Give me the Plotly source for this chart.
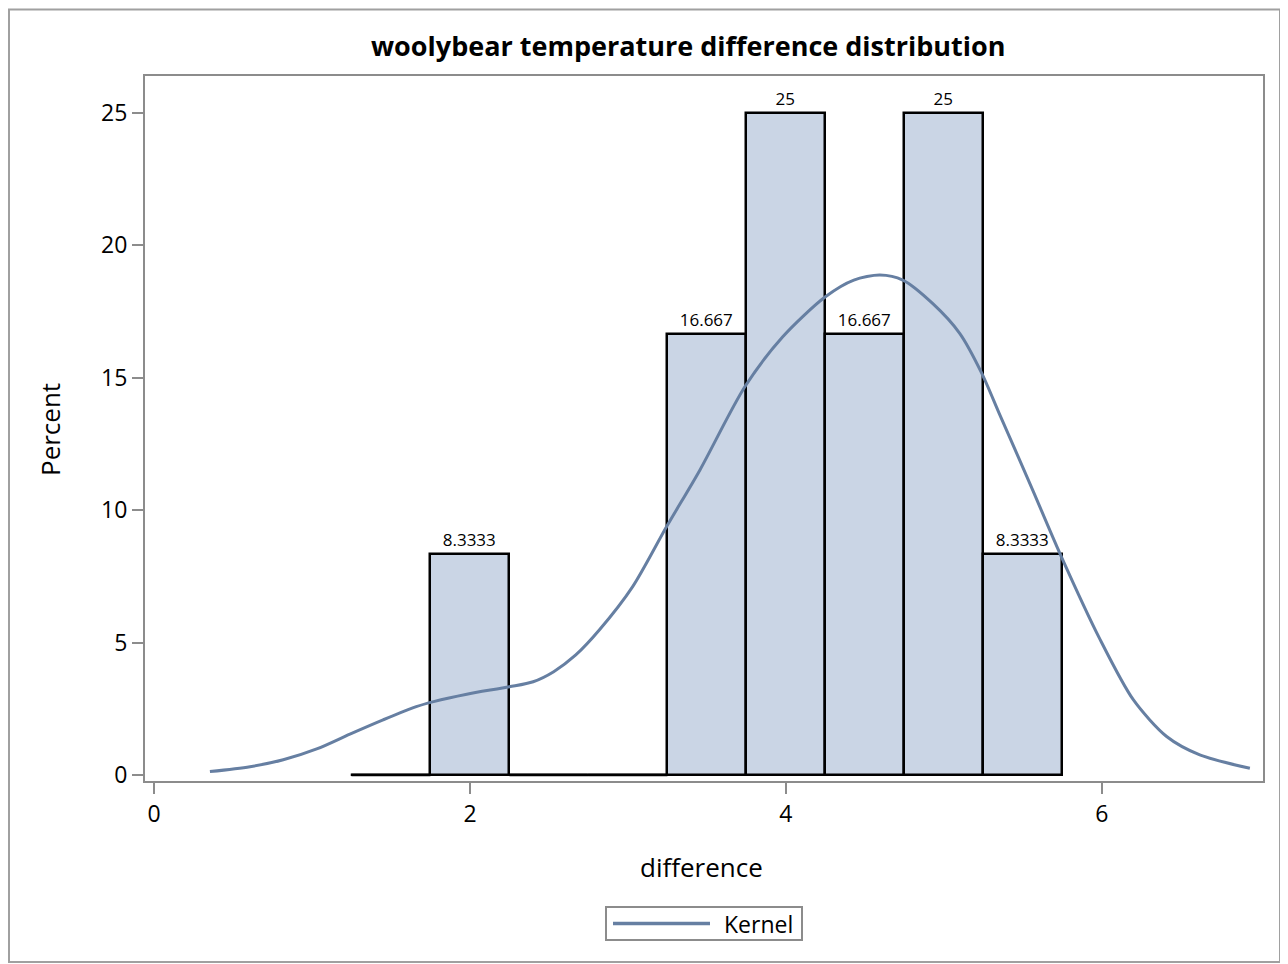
import plotly.graph_objects as go

# Histogram bins (midpoints) and percents
bin_mid = [1.5, 2.0, 2.5, 3.0, 3.5, 4.0, 4.5, 5.0, 5.5]
percent = [0, 8.3333, 0, 0, 16.667, 25, 16.667, 25, 8.3333]
bin_width = 0.5

# Kernel density curve
kern_x = [0.354, 0.608, 0.818, 1.03, 1.24, 1.45, 1.66, 1.77, 1.98, 2.25, 2.40, 2.53, 2.67,
          2.82, 3.03, 3.245, 3.456, 3.74, 3.98, 4.25, 4.43, 4.595, 4.74, 4.93, 5.10, 5.24,
          5.35, 5.47, 5.565, 5.734, 5.99, 6.2, 6.41, 6.62, 6.937]
kern_y = [0.125, 0.31, 0.57, 0.98, 1.54, 2.08, 2.58, 2.77, 3.05, 3.33, 3.52, 3.9, 4.53,
          5.48, 7.11, 9.38, 11.52, 14.66, 16.55, 18.06, 18.69, 18.88, 18.69, 17.8, 16.68, 15.17,
          13.66, 12.02, 10.72, 8.37, 5.1, 2.83, 1.45, 0.755, 0.25]

x_ticks = [0, 2, 4, 6]
y_ticks = [0, 5, 10, 15, 20, 25]

FONT = "Open Sans"
fill = "#CAD5E5"
line_col = "#667FA2"
frame_col = "#8C8C8C"

labels = ["" if v == 0 else f"{v:.5g}" for v in percent]

# page body has an 8px margin: figure covers reference pixels 8..1288, 8..964
OFF = 8
W, H = 1280, 956
L, R, T, B = 137, 25, 68, 183
pw = W - L - R
ph = H - T - B

def px(rx):  # reference pixel x -> paper
    return (rx - OFF - L) / pw

def py(ry):  # reference pixel y -> paper
    return (H - B - (ry - OFF)) / ph

fig = go.Figure()
fig.add_trace(go.Bar(
    x=bin_mid, y=percent, width=[bin_width] * len(bin_mid),
    marker=dict(color=fill, line=dict(color="black", width=2.5)),
    text=labels, textposition="outside", cliponaxis=False,
    textfont=dict(family=FONT, size=17, color="black"),
    showlegend=False, hoverinfo="x+y",
))
# zero-height bins drawn as baseline outline
zx, zy = [], []
for m, v in zip(bin_mid, percent):
    if v == 0:
        zx += [m - bin_width / 2, m + bin_width / 2, None]
        zy += [0, 0, None]
fig.add_trace(go.Scatter(x=zx, y=zy, mode="lines", line=dict(color="black", width=2.5),
                         showlegend=False, hoverinfo="skip"))
fig.add_trace(go.Scatter(
    x=kern_x, y=kern_y, mode="lines", name="Kernel", showlegend=False,
    line=dict(color=line_col, width=3, shape="spline", smoothing=0.8),
))

annotations = [
    dict(text="<b>woolybear temperature difference distribution</b>", xref="paper", yref="paper",
         x=px(688), y=py(46), xanchor="center", yanchor="middle", showarrow=False,
         font=dict(family=FONT, size=27, color="black")),
    dict(text="difference", xref="paper", yref="paper", x=px(701), y=py(867),
         xanchor="center", yanchor="middle", showarrow=False,
         font=dict(family=FONT, size=26, color="black")),
    dict(text="Percent", xref="paper", yref="paper", x=px(50), y=py(430), textangle=-90,
         xanchor="center", yanchor="middle", showarrow=False,
         font=dict(family=FONT, size=26, color="black")),
    dict(text="Kernel", xref="paper", yref="paper", x=px(722), y=py(923.5),
         xanchor="left", yanchor="middle", showarrow=False,
         font=dict(family=FONT, size=23, color="black")),
]

shapes = [
    dict(type="rect", xref="paper", yref="paper",
         x0=px(9), x1=px(1280), y0=py(962), y1=py(9.5),
         line=dict(color="#A0A0A0", width=2), fillcolor="rgba(0,0,0,0)", layer="below"),
    # legend box and sample
    dict(type="rect", xref="paper", yref="paper",
         x0=px(606), x1=px(802), y0=py(940), y1=py(907),
         line=dict(color=frame_col, width=2), fillcolor="white", layer="below"),
    dict(type="line", xref="paper", yref="paper",
         x0=px(613), x1=px(710), y0=py(923.5), y1=py(923.5),
         line=dict(color=line_col, width=3.5)),
]

fig.update_layout(
    width=W, height=H,
    margin=dict(l=L, r=R, t=T, b=B),
    paper_bgcolor="white", plot_bgcolor="white",
    font=dict(family=FONT, color="black"),
    bargap=0, showlegend=False,
    xaxis=dict(range=[-0.057, 7.02], tickvals=x_ticks, showgrid=False, zeroline=False,
               showline=True, linecolor=frame_col, linewidth=2, mirror=True,
               ticks="outside", ticklen=11, tickwidth=2, tickcolor=frame_col,
               tickfont=dict(family=FONT, size=23)),
    yaxis=dict(range=[-0.23, 26.4], tickvals=y_ticks, showgrid=False, zeroline=False,
               showline=True, linecolor=frame_col, linewidth=2, mirror=True,
               ticks="outside", ticklen=11, tickwidth=2, tickcolor=frame_col,
               tickfont=dict(family=FONT, size=23)),
    annotations=annotations,
    shapes=shapes,
)

fig.write_html("out.html")
